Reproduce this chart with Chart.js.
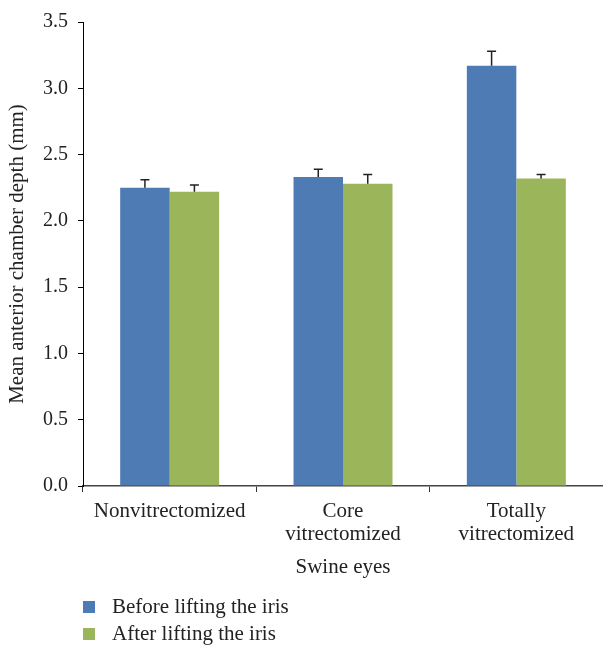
<!DOCTYPE html>
<html>
<head>
<meta charset="utf-8">
<script src="https://cdn.jsdelivr.net/npm/chart.js@4"></script>
<style>
  html, body { margin: 0; padding: 0; background: #fff; }
  #wrap { position: relative; width: 603px; height: 648px; }
  #legend { position: absolute; left: 83px; top: 593px; font-family: 'Liberation Serif', serif; font-size: 21px; color: #222; }
  .item { display: flex; align-items: center; height: 27px; }
  .box { width: 12px; height: 12px; margin-right: 17px; }
</style>
</head>
<body>
<div id="wrap">
  <canvas id="chart" width="603" height="648"></canvas>
  <div id="legend"></div>
</div>
<script>
const categories = [['Nonvitrectomized'], ['Core', 'vitrectomized'], ['Totally', 'vitrectomized']];
const seriesNames = ['Before lifting the iris', 'After lifting the iris'];
const beforeValues = [2.25, 2.33, 3.17];
const afterValues = [2.22, 2.28, 2.32];
const beforeErrors = [0.06, 0.06, 0.11];
const afterErrors = [0.05, 0.07, 0.03];
const colors = ['#4e7bb4', '#9bb55b'];

const textFont = { family: "'Liberation Serif', serif", size: 21 };
const tickFont = { family: "'Liberation Serif', serif", size: 20 };

// upper error bars only, drawn through the y scale
const errorBars = {
  id: 'errorBars',
  afterDatasetsDraw(chart) {
    const ctx = chart.ctx;
    const y = chart.scales.y;
    chart.data.datasets.forEach((ds, i) => {
      const meta = chart.getDatasetMeta(i);
      meta.data.forEach((bar, j) => {
        const top = y.getPixelForValue(ds.data[j] + ds.errors[j]);
        ctx.save();
        ctx.strokeStyle = '#222';
        ctx.lineWidth = 1.5;
        ctx.beginPath();
        ctx.moveTo(bar.x, bar.y);
        ctx.lineTo(bar.x, top);
        ctx.moveTo(bar.x - 4.5, top);
        ctx.lineTo(bar.x + 4.5, top);
        ctx.stroke();
        ctx.restore();
      });
    });
  }
};

new Chart(document.getElementById('chart'), {
  type: 'bar',
  data: {
    labels: categories,
    datasets: [
      { label: seriesNames[0], data: beforeValues, errors: beforeErrors, backgroundColor: colors[0] },
      { label: seriesNames[1], data: afterValues, errors: afterErrors, backgroundColor: colors[1] }
    ]
  },
  options: {
    responsive: false,
    animation: false,
    layout: { padding: { top: 19, right: 0, bottom: 68.4, left: 0 } },
    datasets: { bar: { categoryPercentage: 0.571, barPercentage: 1 } },
    plugins: { legend: { display: false }, tooltip: { enabled: false } },
    scales: {
      x: {
        grid: { offset: true, drawOnChartArea: false, drawTicks: true, tickLength: 6, color: '#333' },
        border: { display: true, color: '#444', width: 1.5 },
        ticks: { font: { ...textFont, lineHeight: 1.1 }, color: '#222', padding: 8, maxRotation: 0 },
        title: { display: true, text: 'Swine eyes', font: textFont, color: '#222', padding: 0 },
        afterFit(scale) { scale.height = 93.6; }
      },
      y: {
        min: 0,
        max: 3.5,
        grid: { drawOnChartArea: false, drawTicks: true, tickLength: 5, color: '#000' },
        border: { display: true, color: '#000', width: 1 },
        ticks: { stepSize: 0.5, font: tickFont, color: '#222', padding: 10, callback: v => v.toFixed(1) },
        title: { display: true, text: 'Mean anterior chamber depth (mm)', font: textFont, color: '#222', padding: { top: 5, bottom: 0 } },
        afterFit(scale) { scale.width = 83; }
      }
    }
  },
  plugins: [errorBars]
});

const legend = document.getElementById('legend');
seriesNames.forEach((name, i) => {
  const item = document.createElement('div');
  item.className = 'item';
  const box = document.createElement('span');
  box.className = 'box';
  box.style.background = colors[i];
  const label = document.createElement('span');
  label.textContent = name;
  item.appendChild(box);
  item.appendChild(label);
  legend.appendChild(item);
});
</script>
</body>
</html>
